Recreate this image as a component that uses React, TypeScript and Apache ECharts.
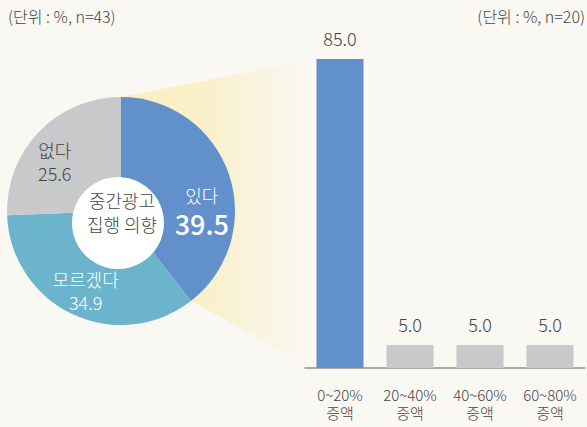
import React, { useEffect, useRef } from "react";
import * as echarts from "echarts";

const pieNames = ["있다", "모르겠다", "없다"];
const pieValues = [39.5, 34.9, 25.6];
const barCategories = ["0~20%", "20~40%", "40~60%", "60~80%"];
const barValues = [85.0, 5.0, 5.0, 5.0];
const leftNote = "(단위 : %, n=43)";
const rightNote = "(단위 : %, n=20)";
const centerTitle = "중간광고\n집행 의향";

const FONT = "'Noto Sans CJK KR', 'Noto Sans', sans-serif";
const BG = "#f9f8f3";
const BLUE = "#6190cb";
const TEAL = "#6cb3cc";
const GRAY = "#c8c9cb";
const DARK = "#444444";
const W = 300;

export default function App() {
  const ref = useRef<HTMLDivElement>(null);
  useEffect(() => {
    if (!ref.current) return;
    const chart = echarts.init(ref.current, undefined, { renderer: "svg" });
    const pieColors = [BLUE, TEAL, GRAY];
    const labelOffsets = [
      [24, 20],
      [-10, 25],
      [-23, -8],
    ];
    const pieData = pieNames.map((name, i) => ({
      name,
      value: pieValues[i],
      itemStyle: { color: pieColors[i] },
      label: {
        show: true,
        position: "inside",
        offset: labelOffsets[i],
        formatter: i === 0 ? "{n|{b}}\n{big|{c}}" : "{n|{b}}\n{v|{c}}",
        rich: {
          n: { fontSize: 18, fontWeight: W, color: i === 2 ? DARK : "#ffffff", fontFamily: FONT, lineHeight: 23, align: "center" },
          v: { fontSize: 18, fontWeight: W, color: i === 2 ? DARK : "#ffffff", fontFamily: FONT, lineHeight: 23, align: "center" },
          big: { fontSize: 27, fontWeight: 500, color: "#ffffff", fontFamily: FONT, lineHeight: 33, align: "center" },
        },
      },
    }));

    chart.setOption({
      animation: false,
      backgroundColor: BG,
      textStyle: { fontFamily: FONT },
      graphic: [
        {
          type: "polygon",
          z: 0,
          shape: {
            points: [
              [121, 97],
              [306, 61],
              [306, 364],
              [191, 301],
            ],
          },
          style: {
            fill: new echarts.graphic.LinearGradient(0, 0, 1, 0, [
              { offset: 0, color: "#faf0c0" },
              { offset: 0.5, color: "#f9f1cc" },
              { offset: 1, color: BG },
            ]),
          },
        },
        {
          type: "circle",
          z: 100,
          shape: { cx: 118, cy: 223, r: 46 },
          style: { fill: "#ffffff" },
        },
        {
          type: "text",
          z: 101,
          x: 122,
          y: 212,
          style: {
            text: centerTitle,
            fill: DARK,
            fontSize: 18,
            fontWeight: W,
            fontFamily: FONT,
            lineHeight: 24,
            align: "center",
            verticalAlign: "middle",
          },
        },
        {
          type: "text",
          x: 8,
          y: 16,
          style: { text: leftNote, fill: DARK, fontSize: 16, fontWeight: W, fontFamily: FONT, verticalAlign: "middle" },
        },
        {
          type: "text",
          x: 585,
          y: 16,
          style: { text: rightNote, fill: DARK, fontSize: 16, fontWeight: W, fontFamily: FONT, align: "right", verticalAlign: "middle" },
        },
      ],
      grid: { left: 305, right: 2, top: 59, bottom: 59 },
      xAxis: {
        type: "category",
        data: barCategories,
        axisLine: { lineStyle: { color: "#929292", width: 1.5 } },
        axisTick: { show: false },
        axisLabel: {
          interval: 0,
          color: DARK,
          fontSize: 15,
          fontWeight: W,
          fontFamily: FONT,
          lineHeight: 18,
          margin: 17,
          formatter: (v: string) => v + "\n증액",
        },
      },
      yAxis: {
        type: "value",
        min: 0,
        max: 85,
        show: false,
        splitLine: { show: false },
      },
      series: [
        {
          type: "pie",
          z: 5,
          center: [121, 211],
          radius: [0, 114],
          startAngle: 90,
          clockwise: true,
          silent: true,
          labelLine: { show: false },
          data: pieData,
        },
        {
          type: "bar",
          z: 5,
          barWidth: 47,
          barMinHeight: 23,
          data: barValues.map((v, i) => ({ value: v, itemStyle: { color: i === 0 ? BLUE : GRAY } })),
          label: {
            show: true,
            position: "top",
            distance: 12,
            color: DARK,
            fontSize: 18,
            fontWeight: W,
            fontFamily: FONT,
            formatter: (p: any) => Number(p.value).toFixed(1),
          },
        },
      ],
    });
    return () => chart.dispose();
  }, []);
  return <div ref={ref} style={{ width: 587, height: 427, position: "absolute", left: 0, top: 0 }} />;
}
